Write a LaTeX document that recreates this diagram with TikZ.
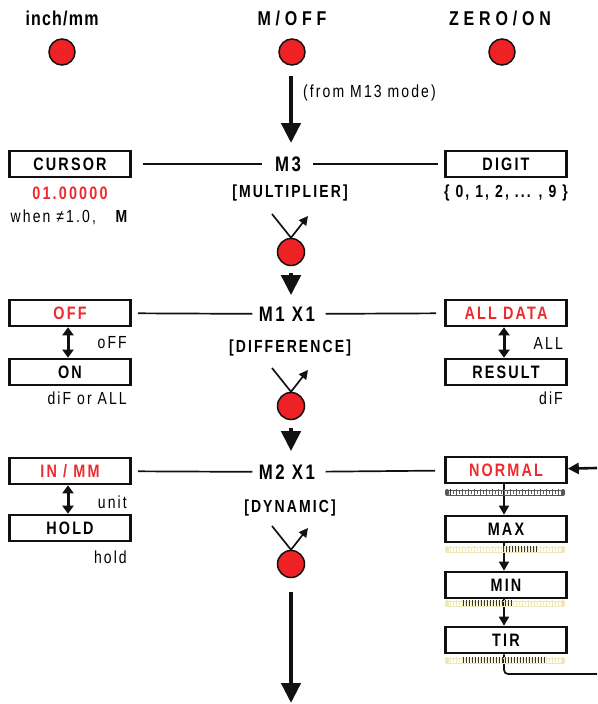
\documentclass[tikz,border=0pt]{standalone}
\usepackage{fontspec}
\setmainfont{Liberation Sans}
\usepackage{tikz}
\usetikzlibrary{arrows.meta,calc,positioning}
\definecolor{Ink}{HTML}{111111}
\definecolor{Lamp}{HTML}{EE2224}
\definecolor{Alert}{HTML}{EE2A2E}
\definecolor{Faint}{HTML}{EFE7B6}
\newfontfamily\narrowfont[FakeStretch=0.8,LetterSpace=12]{Liberation Sans}
\newcommand{\headfont}{\narrowfont\bfseries\fontsize{20}{22}\selectfont}
\newcommand{\boxfont}{\narrowfont\bfseries\fontsize{18}{20}\selectfont}
\newcommand{\infofont}{\narrowfont\bfseries\fontsize{17.5}{19}\selectfont}
\newcommand{\modefont}{\narrowfont\bfseries\fontsize{21}{23}\selectfont}
\newcommand{\notefont}{\narrowfont\fontsize{17.5}{19}\selectfont}
% button symbol: key cap with a press mark and a release arrow
\newcommand{\keypress}[2]{%
  \node[keycap] (#1) at (291,#2) {};
  \coordinate (#1in) at ($(#1)+(-19,-38)$);
  \coordinate (#1out) at ($(#1)+(17,-36)$);
  \draw[link] (#1in) -- (#1.north);
  \draw[link,-{Triangle[width=9pt,length=9pt]}] (#1.north) -- (#1out);
}
% scale strip under the display boxes
\newcommand{\scalebar}[4]{%
  \fill[#2,rounded corners=2pt] (445,#1) rectangle (449,#1+7);
  \fill[#2,rounded corners=2pt] (561,#1) rectangle (565,#1+7);
  \draw[#2,line width=0.5pt] (447,#1+1) -- (563,#1+1);
  \draw[#2,line width=0.5pt] (447,#1+6.5) -- (563,#1+6.5);
  \foreach \k in {0,...,18}
    \draw[#2,line width=0.8pt] (450+6*\k,#1) -- (450+6*\k,#1+7);
  \foreach \k in {0,...,17}
    \draw[#2,line width=0.6pt] (453+6*\k,#1+1) -- (453+6*\k,#1+4.5);
  \foreach \k in {0,...,#4}
    \draw[Ink!85,line width=0.7pt] (#3+3*\k,#1) -- (#3+3*\k,#1+6);
}
\tikzset{
  lamp/.style={circle,draw=Ink,line width=1.5pt,fill=Lamp,minimum size=26pt,inner sep=0pt},
  keycap/.style={circle,draw=Ink,line width=1.5pt,fill=Lamp,minimum size=27pt,inner sep=0pt},
  modebox/.style={draw=Ink,line width=2.6pt,fill=white,minimum width=121pt,minimum height=26pt,inner sep=0pt,font=\boxfont},
  headline/.style={font=\headfont},
  modename/.style={font=\modefont},
  modeinfo/.style={font=\infofont},
  remark/.style={font=\notefont,inner sep=0pt},
  link/.style={Ink,line width=1.7pt},
  push/.style={Ink,line width=4.5pt,-{Triangle[width=19pt,length=20pt]}},
  flow/.style={Ink,line width=1.6pt,-{Triangle[width=10pt,length=9pt]}},
  feed/.style={Ink,line width=2.6pt,-{Triangle[width=11pt,length=11pt]}},
  swap/.style={Ink,line width=3pt,{Triangle[width=11pt,length=8pt]}-{Triangle[width=11pt,length=8pt]}},
}
\begin{document}
\begin{tikzpicture}[x=1pt,y=-1pt]
  \useasboundingbox (0,0) rectangle (597,704);
  % keys along the top
  \node[headline] (unitlabel) at (62,18) {\addfontfeature{LetterSpace=6}inch/mm};
  \node[lamp] (unitkey) at (62,52) {};
  \node[headline] (modelabel) at (292,18) {\addfontfeature{LetterSpace=24}M/OFF};
  \node[lamp] (modekey) at (292,52) {};
  \node[headline] (zerolabel) at (500,18) {\addfontfeature{LetterSpace=24}ZERO/ON};
  \node[lamp] (zerokey) at (502,52) {};
  \coordinate (entry) at (291,76);
  \node[remark,anchor=west] (fromnote) at (303,93) {(from M13 mode)};

  % M3
  \node[modename] (m3) at (288,164) {M3};
  \node[modeinfo] (m3info) at (290,193) {[MULTIPLIER]};
  \node[modebox] (cursor) at (70,164) {CURSOR};
  \node[modename,font=\boxfont,text=Alert] (cursorval) at (70,193) {01.00000};
  \node[remark] (cursornote) at (70,217) {when ≠1.0,\quad\textbf{M}};
  \node[modebox] (digit) at (506,164) {DIGIT};
  \node[modeinfo] (digitval) at (506,193) {\{ 0, 1, 2, ... , 9 \}};
  \draw[push,shorten >=10pt] (entry) -- (entry |- m3.north);
  \draw[link,shorten <=11pt,shorten >=10pt] (cursor) -- (m3);
  \draw[link,shorten <=9pt,shorten >=6pt] (m3) -- (digit);
  \keypress{m3key}{252}

  % M1
  \node[modename] (m1) at (287,314) {M1 X1};
  \node[modeinfo] (m1info) at (290,348) {[DIFFERENCE]};
  \node[modebox,text=Alert] (off) at (70,313) {OFF};
  \node[modebox] (on) at (70,372) {ON};
  \node[remark,anchor=east] (offnote) at (127,343) {oFF};
  \node[remark,anchor=east] (onnote) at (127,398) {diF or ALL};
  \node[modebox,text=Alert] (alldata) at (506,313) {ALL DATA};
  \node[modebox] (result) at (506,372) {RESULT};
  \node[remark,anchor=east] (allnote) at (563,343) {ALL};
  \node[remark,anchor=east] (resultnote) at (563,398) {diF};
  \draw[push,shorten <=7pt,shorten >=8pt] (m3key) -- (m3key |- m1.north);
  \draw[link,shorten <=6pt,shorten >=3pt] (off) -- (m1);
  \draw[link,shorten <=7pt,shorten >=8pt] (m1) -- (alldata);
  \draw[swap] ([xshift=-2pt]off.south) -- ([xshift=-2pt]on.north);
  \draw[swap] ([xshift=-2pt]alldata.south) -- ([xshift=-2pt]result.north);
  \keypress{m1key}{406}

  % M2
  \node[modename] (m2) at (287,472) {M2 X1};
  \node[modeinfo] (m2info) at (290,508) {[DYNAMIC]};
  \node[modebox,text=Alert] (inmm) at (70,471) {IN / MM};
  \node[modebox] (hold) at (70,528) {HOLD};
  \node[remark,anchor=east] (inmmnote) at (127,502) {unit};
  \node[remark,anchor=east] (holdnote) at (127,557) {hold};
  \node[modebox,text=Alert] (normal) at (506,470) {NORMAL};
  \node[modebox] (max) at (506,529) {MAX};
  \node[modebox] (min) at (506,585) {MIN};
  \node[modebox] (tir) at (506,640) {TIR};
  \coordinate (rejoin) at (597,468);
  \coordinate (loopback) at (597,674);
  \draw[push,shorten <=8pt,shorten >=10pt] (m1key) -- (m1key |- m2.north);
  \draw[link,shorten <=6pt,shorten >=3pt] (inmm) -- (m2);
  \draw[link,shorten <=7pt,shorten >=9pt] (m2) -- (normal);
  \draw[swap] ([xshift=-2pt]inmm.south) -- ([xshift=-2pt]hold.north);
  \draw[flow] ([xshift=-2pt]normal.south) -- ([xshift=-2pt]max.north);
  \draw[flow] ([xshift=-2pt]max.south) -- ([xshift=-2pt]min.north);
  \draw[flow] ([xshift=-2pt]min.south) -- ([xshift=-2pt]tir.north);
  \draw[link,rounded corners=4pt] ([xshift=-2pt]tir.south) |- (loopback);
  \draw[feed] (rejoin) -- (normal);
  \scalebar{489}{Ink!70}{450}{0}
  \scalebar{546}{Faint}{503}{11}
  \scalebar{600}{Faint}{463}{16}
  \scalebar{657}{Faint}{463}{27}
  \keypress{m2key}{564}
  \coordinate (exit) at (291,703);
  \draw[push,shorten <=14pt] (m2key) -- (exit);
\end{tikzpicture}
\end{document}
